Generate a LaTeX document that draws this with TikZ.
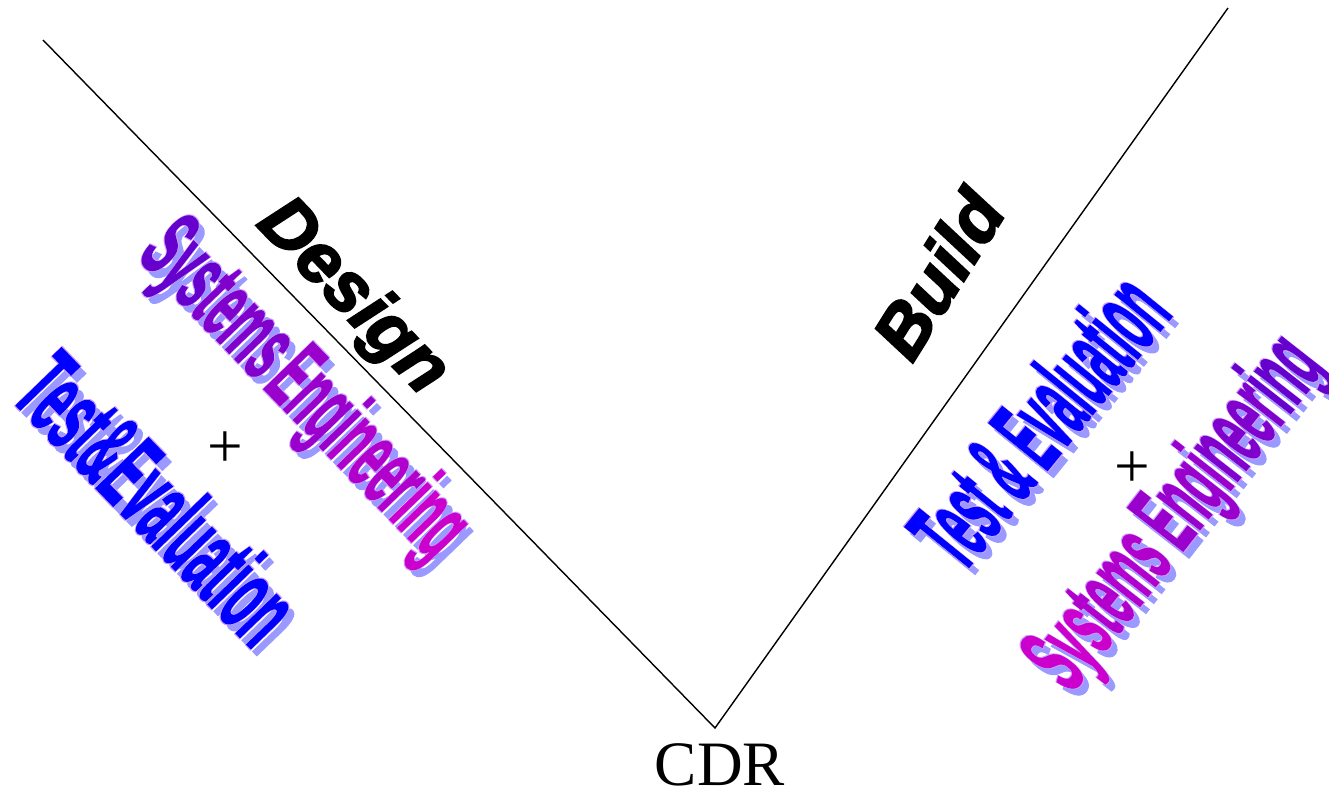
\documentclass[tikz,border=0pt]{standalone}
\usepackage{fontspec}
\setmainfont{Liberation Serif}
\newfontfamily\artfont{Liberation Sans}[FakeBold=1.5]
\newfontfamily\edgefont{Liberation Sans}[FakeBold=4]
\newfontfamily\phasefont{Liberation Sans}[FakeBold=3]
\definecolor{sepurple}{HTML}{6600CC}
\definecolor{semagenta}{HTML}{CC00CC}
\definecolor{artshadow}{HTML}{9999FF}
\definecolor{artedge}{HTML}{CC99FF}
\definecolor{teblue}{HTML}{0000FF}
% colour run along "Systems Engineering"
\newcommand{\sysgrad}[3]{\textcolor{#1}{Sys}\textcolor{#1!75!#2}{tems}#3\textcolor{#1!50!#2}{Engi}\textcolor{#1!25!#2}{neer}\textcolor{#2}{ing}}

\begin{document}
\begin{tikzpicture}[x=0.02cm, y=-0.02cm,
vline/.style={line width=0.8pt},
phase/.style={font=\phasefont\bfseries\itshape\fontsize{41}{46}\selectfont, inner sep=0pt},
art/.style={font=\artfont\bfseries, inner sep=0pt},
artrim/.style={font=\edgefont\bfseries, inner sep=0pt, text=artedge},
artshade/.style={font=\artfont\bfseries, inner sep=0pt, text=artshadow},
plain/.style={font=\fontsize{36}{40}\selectfont, inner sep=0pt}
]
\useasboundingbox (0,0) rectangle (1329,788);

\coordinate (dtop) at (43,40);
\coordinate (vtx) at (715,728);
\coordinate (btop) at (1228,8);

\draw[vline] (dtop) -- (vtx) -- (btop);

\node [plain] (cdr) at (720,765) {CDR};

\node [phase, rotate=-46] (dsn) at (352,298) {Design};
\node [phase, rotate=58] (bld) at (938,274) {Build};

% left side
\node [artshade, rotate=-46] (seLs) at (308,399) {\fontsize{56}{60}\selectfont\scalebox{0.43}[1]{Systems\,Engineering}};
\node [artrim, rotate=-46] (seLr) at (302,392) {\fontsize{56}{60}\selectfont\scalebox{0.43}[1]{Systems\,Engineering}};
\node [art, rotate=-46] (seL) at (302,392) {\fontsize{56}{60}\selectfont\scalebox{0.43}[1]{\sysgrad{sepurple}{semagenta}{\,}}};
\node [artshade, rotate=-46] (teLs) at (164,505) {\fontsize{60}{64}\selectfont\scalebox{0.43}[1]{Test\&Evaluation}};
\node [artrim, rotate=-46] (teLr) at (158,498) {\fontsize{60}{64}\selectfont\scalebox{0.43}[1]{Test\&Evaluation}};
\node [art, rotate=-46, text=teblue] (teL) at (158,498) {\fontsize{60}{64}\selectfont\scalebox{0.43}[1]{Test\&Evaluation}};
\node [plain] (plusL) at (225,450) {+};

% right side
\node [artshade, rotate=51] (teRs) at (1044,427) {\fontsize{62}{66}\selectfont\scalebox{0.37}[1]{Test \& Evaluation}};
\node [artrim, rotate=51] (teRr) at (1038,420) {\fontsize{62}{66}\selectfont\scalebox{0.37}[1]{Test \& Evaluation}};
\node [art, rotate=51, text=teblue] (teR) at (1038,420) {\fontsize{62}{66}\selectfont\scalebox{0.37}[1]{Test \& Evaluation}};
\node [artshade, rotate=52] (seRs) at (1184,522) {\fontsize{58}{62}\selectfont\scalebox{0.40}[1]{Systems Engineering}};
\node [artrim, rotate=52] (seRr) at (1178,515) {\fontsize{58}{62}\selectfont\scalebox{0.40}[1]{Systems Engineering}};
\node [art, rotate=52] (seR) at (1178,515) {\fontsize{58}{62}\selectfont\scalebox{0.40}[1]{\sysgrad{semagenta}{sepurple}{ }}};
\node [plain] (plusR) at (1132,470) {+};
\end{tikzpicture}
\end{document}
